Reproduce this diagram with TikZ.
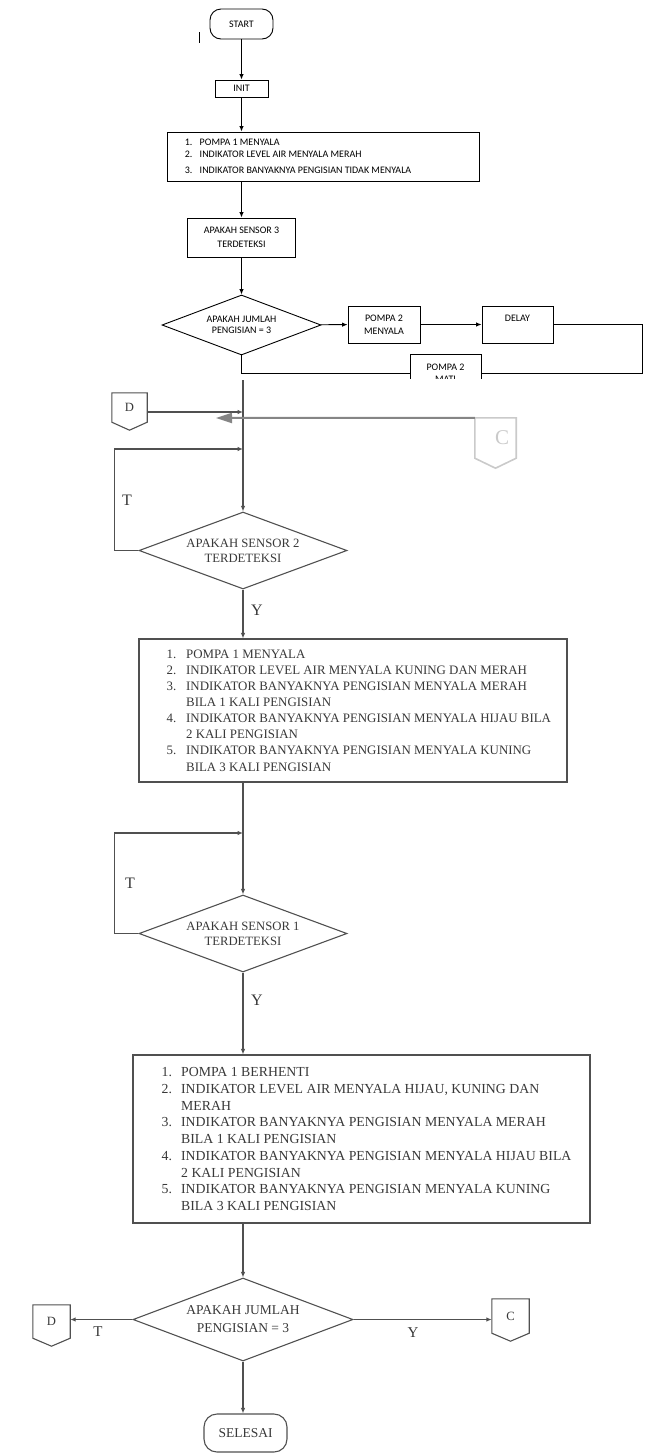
\documentclass[tikz,border=0pt]{standalone}
\usepackage{fontspec}
\setmainfont{Liberation Serif}
\newfontfamily\calibri{Carlito}
\usepackage{tikz}
\usetikzlibrary{shapes.geometric,arrows.meta,positioning}
\definecolor{pindai}{HTML}{505050}
\definecolor{tekspindai}{HTML}{383838}
\definecolor{abuc}{HTML}{CACACA}
\definecolor{panahc}{HTML}{858585}
\newcommand{\nomor}[1]{\makebox[19.5pt][l]{#1}}
\newcommand{\lanjut}{\hspace*{19.5pt}}
\tikzset{
garis/.style={draw=black,line width=0.9},
garispindai/.style={draw=pindai,line width=1.1},
kotak/.style={rectangle,draw=black,line width=0.9,inner sep=0,align=center,font=\calibri\fontsize{10}{12.5}\selectfont},
mulai/.style={kotak,rounded corners=11,minimum width=63,minimum height=30},
belahatas/.style={diamond,aspect=2.65,draw=black,line width=0.9,inner sep=0,align=center,font=\calibri\fontsize{10}{11.5}\selectfont},
isiatas/.style={inner sep=0,align=left,font=\calibri\fontsize{10}{12}\selectfont},
kotakpindai/.style={rectangle,draw=pindai,line width=1.1,inner sep=0},
isipindai/.style={inner sep=0,align=left,text=tekspindai},
belah/.style={diamond,aspect=2.7,draw=pindai,line width=1.1,inner sep=0,align=center,text=tekspindai,font=\fontsize{12.7}{15}\selectfont},
konektor/.style={rectangle,inner sep=0,text=tekspindai,font=\fontsize{12.6}{13}\selectfont},
huruf/.style={inner sep=0,text=tekspindai,font=\fontsize{16}{16}\selectfont}
}
\begin{document}
\begin{tikzpicture}[x=1pt,y=-1pt,>={Latex[length=5.5pt,width=4.5pt]}]
\useasboundingbox (0,0) rectangle (645,1454);
\begin{scope}
\clip (0,0) rectangle (645,378);
\node[mulai] (start) at (241.5,24) {START};
\node[kotak,minimum width=53,minimum height=17] (init) at (241.5,88.5) {INIT};
\node[kotak,minimum width=312,minimum height=49] (langkah1) at (323,156.5) {};
\node[isiatas,right=18pt of langkah1.west] (isilangkah1) {\makebox[15pt][l]{1.}POMPA 1 MENYALA\\
\makebox[15pt][l]{2.}INDIKATOR LEVEL AIR MENYALA MERAH\\[3.5pt]
\makebox[15pt][l]{3.}INDIKATOR BANYAKNYA PENGISIAN TIDAK MENYALA};
\node[kotak,minimum width=108,minimum height=39,font=\calibri\fontsize{10}{14}\selectfont] (sensor3) at (241.5,237.5) {APAKAH SENSOR 3\\TERDETEKSI};
\node[belahatas,minimum width=159,minimum height=60] (jumlah1) at (241.5,325) {APAKAH JUMLAH\\PENGISIAN = 3};
\node[kotak,minimum width=72,minimum height=37] (pompa2on) at (384,324.5) {POMPA 2\\MENYALA};
\node[kotak,minimum width=71,minimum height=37] (delay) at (517.5,324.5) {DELAY\\\mbox{}};
\node[kotak,minimum width=71,minimum height=37] (pompa2off) at (445.5,373) {POMPA 2\\MATI};
\draw[->][garis](start)--(init);
\draw[->][garis](init.south)--(init.south|-langkah1.north);
\draw[->][garis](langkah1.south-|sensor3.north)--(sensor3.north);
\draw[->][garis](sensor3)--(jumlah1);
\draw[->][garis](jumlah1)--(pompa2on);
\draw[->][garis](pompa2on)--(delay);
\draw[garis](delay.east)--++(89,0)|-(pompa2off.east);
\draw[garis](pompa2off.west)-|(jumlah1.south);
\draw[garis](199,32)--(199,43);
\end{scope}
\coordinate (sambung) at (243,380);
\coordinate (masukd) at (243,412);
\coordinate (masukt1) at (243,449);
\coordinate (ujungc) at (216,418);
\node[konektor,minimum width=35,minimum height=29] (kond1) at (129.5,407.5) {D};
\draw[garispindai](kond1.north west)--(kond1.north east)--(kond1.south east)--([yshift=-8]kond1.south)--(kond1.south west)--cycle;
\node[konektor,minimum width=41,minimum height=40,text=abuc,font=\fontsize{21}{21}\selectfont] (konc1) at (495.5,438) {\hspace*{13pt}\raisebox{-4pt}{C}};
\draw[draw=abuc,line width=1.6](konc1.north west)--(konc1.north east)--(konc1.south east)--([yshift=-10]konc1.south)--(konc1.south west)--cycle;
\node[belah,minimum width=208,minimum height=77] (sensor2) at (243,550.5) {APAKAH SENSOR 2\\TERDETEKSI};
\draw[->][garispindai](sambung)--(sensor2.north);
\draw[->][garispindai](kond1.east|-masukd)--(masukd);
\draw[-{Triangle[length=16pt,width=10pt]}][draw=panahc,line width=2](konc1.north west)--(ujungc);
\draw[->][garispindai](sensor2.west)--++(-24,0)|-(masukt1);
\node[huruf] (t1) at (127,500) {T};
\node[huruf] (y1) at (257,610) {Y};
\node[kotakpindai,minimum width=428,minimum height=143] (lampu1) at (353,710.5) {};
\node[isipindai,font=\fontsize{12.9}{16.1}\selectfont,right=28pt of lampu1.west] (isilampu1) {\nomor{1.}POMPA 1 MENYALA\\
\nomor{2.}INDIKATOR LEVEL AIR MENYALA KUNING DAN MERAH\\
\nomor{3.}INDIKATOR BANYAKNYA PENGISIAN MENYALA MERAH\\
\lanjut BILA 1 KALI PENGISIAN\\
\nomor{4.}INDIKATOR BANYAKNYA PENGISIAN MENYALA HIJAU BILA\\
\lanjut 2 KALI PENGISIAN\\
\nomor{5.}INDIKATOR BANYAKNYA PENGISIAN MENYALA KUNING\\
\lanjut BILA 3 KALI PENGISIAN};
\draw[->][garispindai](sensor2.south)--(sensor2.south|-lampu1.north);
\coordinate (masukt2) at (243,833);
\node[belah,minimum width=208,minimum height=77] (sensor1) at (243,933.5) {APAKAH SENSOR 1\\TERDETEKSI};
\draw[->][garispindai](lampu1.south-|sensor1.north)--(sensor1.north);
\draw[->][garispindai](sensor1.west)--++(-24,0)|-(masukt2);
\node[huruf] (t2) at (130,883) {T};
\node[huruf] (y2) at (257,1000) {Y};
\node[kotakpindai,minimum width=457,minimum height=168] (lampu2) at (361.5,1139) {};
\node[isipindai,font=\fontsize{13.8}{16.75}\selectfont,right=29pt of lampu2.west] (isilampu2) {\nomor{1.}POMPA 1 BERHENTI\\
\nomor{2.}INDIKATOR LEVEL AIR MENYALA HIJAU, KUNING DAN\\
\lanjut MERAH\\
\nomor{3.}INDIKATOR BANYAKNYA PENGISIAN MENYALA MERAH\\
\lanjut BILA 1 KALI PENGISIAN\\
\nomor{4.}INDIKATOR BANYAKNYA PENGISIAN MENYALA HIJAU BILA\\
\lanjut 2 KALI PENGISIAN\\
\nomor{5.}INDIKATOR BANYAKNYA PENGISIAN MENYALA KUNING\\
\lanjut BILA 3 KALI PENGISIAN};
\draw[->][garispindai](sensor1.south)--(sensor1.south|-lampu2.north);
\node[belah,minimum width=220,minimum height=83,font=\fontsize{13.5}{18}\selectfont] (jumlah2) at (243,1319.5) {APAKAH JUMLAH\\PENGISIAN = 3};
\draw[->][garispindai](lampu2.south-|jumlah2.north)--(jumlah2.north);
\node[konektor,minimum width=37,minimum height=33] (kond2) at (51.5,1321.5) {D};
\draw[garispindai](kond2.north west)--(kond2.north east)--(kond2.south east)--([yshift=-8]kond2.south)--(kond2.south west)--cycle;
\node[konektor,minimum width=37,minimum height=34] (konc2) at (510.5,1316) {C};
\draw[garispindai](konc2.north west)--(konc2.north east)--(konc2.south east)--([yshift=-8]konc2.south)--(konc2.south west)--cycle;
\draw[->][garispindai](jumlah2.west)--(kond2.east|-jumlah2.west);
\draw[->][garispindai](jumlah2.east)--(konc2.west|-jumlah2.east);
\node[huruf,font=\fontsize{15}{15}\selectfont] (t3) at (98,1332) {T};
\node[huruf,font=\fontsize{15}{15}\selectfont] (y3) at (413,1333) {Y};
\node[kotakpindai,rounded corners=13,minimum width=83,minimum height=38,text=tekspindai,font=\fontsize{13.5}{14}\selectfont] (selesai) at (245.5,1433) {SELESAI};
\draw[->][garispindai](jumlah2.south)--(jumlah2.south|-selesai.north);
\end{tikzpicture}
\end{document}
